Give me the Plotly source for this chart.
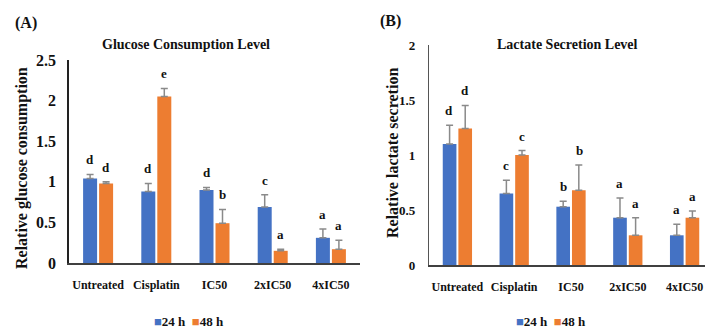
import plotly.graph_objects as go

categories = ["Untreated", "Cisplatin", "IC50", "2xIC50", "4xIC50"]
series_names = ["24 h", "48 h"]
colors = ["#4472C4", "#ED7D31"]

# Glucose consumption (panel A)
glu_24 = [1.04, 0.88, 0.90, 0.69, 0.31]
glu_24_err = [0.05, 0.10, 0.03, 0.15, 0.11]
glu_48 = [0.98, 2.05, 0.49, 0.15, 0.17]
glu_48_err = [0.02, 0.10, 0.17, 0.02, 0.11]
glu_24_lbl = ["d", "d", "d", "c", "a"]
glu_48_lbl = ["d", "e", "b", "a", "a"]

# Lactate secretion (panel B)
lac_24 = [1.10, 0.65, 0.53, 0.43, 0.27]
lac_24_err = [0.17, 0.12, 0.05, 0.18, 0.10]
lac_48 = [1.24, 1.00, 0.68, 0.27, 0.43]
lac_48_err = [0.21, 0.04, 0.23, 0.16, 0.06]
lac_24_lbl = ["d", "c", "b", "a", "a"]
lac_48_lbl = ["d", "c", "b", "a", "a"]

FONT = "Liberation Serif"
ERRC = "#8a8a8a"

# the page body keeps its default 8px margin, so the figure is sized to fit the window
OFF = 8
W, H = 713 - OFF, 330 - OFF


def px(x):
    return (x - OFF) / W


def py(y):
    return 1 - (y - OFF) / H


fig = go.Figure()

panels = [
    ("x", "y", [glu_24, glu_48], [glu_24_err, glu_48_err], [glu_24_lbl, glu_48_lbl]),
    ("x2", "y2", [lac_24, lac_48], [lac_24_err, lac_48_err], [lac_24_lbl, lac_48_lbl]),
]

annotations = []
for xa, ya, vals, errs, lbls in panels:
    for i in range(2):
        fig.add_trace(go.Bar(
            x=categories, y=vals[i], name=series_names[i],
            marker=dict(color=colors[i], line=dict(width=0)),
            error_y=dict(type="data", array=errs[i], arrayminus=[0] * len(errs[i]),
                         symmetric=False, color=ERRC, thickness=1.5, width=3.5),
            xaxis=xa, yaxis=ya, showlegend=False,
        ))
        for c, v, e, t in zip(categories, vals[i], errs[i], lbls[i]):
            annotations.append(dict(
                x=c, y=v + e, xref=xa, yref=ya, text="<b>%s</b>" % t,
                showarrow=False, yanchor="bottom", xshift=(-8 if i == 0 else 8),
                yshift=5, font=dict(family=FONT, size=13, color="#111111"),
            ))

# panel titles and labels
annotations += [
    dict(x=px(186), y=py(45), xref="paper", yref="paper", showarrow=False,
         text="<b>Glucose Consumption Level</b>", font=dict(family=FONT, size=14, color="#111"),
         xanchor="center", yanchor="middle"),
    dict(x=px(567), y=py(45), xref="paper", yref="paper", showarrow=False,
         text="<b>Lactate Secretion Level</b>", font=dict(family=FONT, size=14, color="#111"),
         xanchor="center", yanchor="middle"),
    dict(x=px(26), y=py(23), xref="paper", yref="paper", showarrow=False,
         text="<b>(A)</b>", font=dict(family=FONT, size=16, color="#111"),
         xanchor="center", yanchor="middle"),
    dict(x=px(390), y=py(21), xref="paper", yref="paper", showarrow=False,
         text="<b>(B)</b>", font=dict(family=FONT, size=16, color="#111"),
         xanchor="center", yanchor="middle"),
    dict(x=px(22), y=py(168), xref="paper", yref="paper", showarrow=False,
         text="<b>Relative glucose consumption</b>", textangle=-90,
         font=dict(family=FONT, size=16, color="#111"), xanchor="center", yanchor="middle"),
    dict(x=px(392), y=py(153), xref="paper", yref="paper", showarrow=False,
         text="<b>Relative lactate secretion</b>", textangle=-90,
         font=dict(family=FONT, size=16, color="#111"), xanchor="center", yanchor="middle"),
]

# legends (drawn as text keys under each panel)
for cx in (189, 551):
    txt = "  ".join("<span style='color:%s'>■</span><b>%s</b>" % (col, nm)
                    for col, nm in zip(colors, series_names))
    annotations.append(dict(x=px(cx), y=py(321), xref="paper", yref="paper", showarrow=False,
                            text=txt, font=dict(family=FONT, size=13, color="#111"),
                            xanchor="center", yanchor="middle"))

xcommon = dict(showgrid=False, showline=True, linecolor="#404040", linewidth=2,
               ticks="", tickfont=dict(family=FONT, size=12, color="#111", weight="bold"),
               zeroline=False, ticklabelstandoff=10)

fig.update_layout(
    width=W, height=H,
    margin=dict(l=0, r=0, t=0, b=0, autoexpand=False),
    paper_bgcolor="white", plot_bgcolor="white",
    barmode="group", bargap=0.45, bargroupgap=0.125,
    annotations=annotations,
    xaxis=dict(domain=[px(69), px(360)], anchor="y", **xcommon),
    xaxis2=dict(domain=[px(429), 1.0], anchor="y2", **xcommon),
    yaxis=dict(domain=[py(263), py(60)], range=[0, 2.5], anchor="x",
               tickvals=[0, 0.5, 1, 1.5, 2, 2.5], ticktext=["0", "0.5", "1", "1.5", "2", "2.5"],
               showgrid=False, zeroline=False, showline=True, linecolor="#222", linewidth=1.5,
               ticks="", ticklabelstandoff=8,
               tickfont=dict(family=FONT, size=16, color="#111", weight="bold")),
    yaxis2=dict(domain=[py(265), py(45)], range=[0, 2], anchor="x2",
                tickvals=[0, 0.5, 1, 1.5, 2], ticktext=["0", "0.5", "1", "1.5", "2"],
                showgrid=False, zeroline=False, showline=True, linecolor="#555", linewidth=1.2,
                ticks="", ticklabelstandoff=10,
                tickfont=dict(family=FONT, size=13, color="#111", weight="bold")),
)

fig.write_html("out.html")
